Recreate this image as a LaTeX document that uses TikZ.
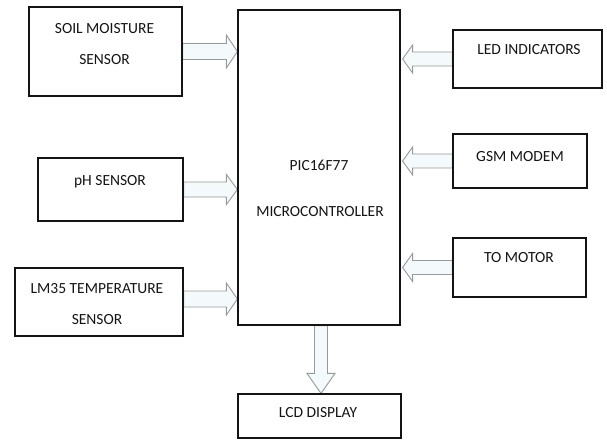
\documentclass[tikz,border=0pt]{standalone}
\usepackage{fontspec}
\setmainfont{Carlito}
\usetikzlibrary{calc,backgrounds}
\definecolor{arrowfill}{RGB}{244,249,251}
\definecolor{ink}{RGB}{20,20,20}
\tikzset{
  blockbox/.style={draw=ink, line width=1.2pt, rectangle, inner sep=0pt},
  lbl/.style={text=ink, font=\fontsize{15.5}{31}\selectfont, align=center, inner sep=0pt},
  arrowstyle/.style={draw=gray!80, fill=arrowfill, line width=0.9pt, line join=miter}
}
\newcommand\blockarrow[5]{%
  \coordinate (ba-h) at ($(#2)!#5!(#1)$);
  \filldraw[arrowstyle] ($(#1)!#3!90:(#2)$) -- ($(ba-h)!#3!-90:(#1)$) -- ($(ba-h)!#4!-90:(#1)$) -- (#2) -- ($(ba-h)!#4!90:(#1)$) -- ($(ba-h)!#3!90:(#1)$) -- ($(#1)!#3!-90:(#2)$) -- cycle;}
\begin{document}
\begin{tikzpicture}[x=1pt,y=-1pt]
\useasboundingbox (0,0) rectangle (607,440);
% boxes
\node[blockbox, minimum width=162pt, minimum height=315pt] (micro) at (319,167.5) {};
\node[blockbox, minimum width=153pt, minimum height=89pt] (soil) at (105.5,51.5) {};
\node[blockbox, minimum width=145pt, minimum height=63pt] (ph) at (110.5,189.5) {};
\node[blockbox, minimum width=168pt, minimum height=68pt] (lm) at (99,302) {};
\node[blockbox, minimum width=149pt, minimum height=58pt] (led) at (527.5,59) {};
\node[blockbox, minimum width=134pt, minimum height=54pt] (gsm) at (520,161) {};
\node[blockbox, minimum width=133pt, minimum height=59pt] (motor) at (519.5,267.5) {};
\node[blockbox, minimum width=163pt, minimum height=44pt] (lcd) at (319.5,416) {};
% texts
\node[lbl] (microtxt1) at (319,165) {PIC16F77};
\node[lbl] (microtxt2) at (320,212) {MICROCONTROLLER};
\node[lbl] (soiltxt) at (104.5,44.5) {SOIL MOISTURE\\SENSOR};
\node[lbl] (phtxt) at (110,182) {pH SENSOR};
\node[lbl] (lmtxt) at (97,304.5) {LM35 TEMPERATURE\\SENSOR};
\node[lbl] (ledtxt) at (529,50) {LED INDICATORS};
\node[lbl] (gsmtxt) at (520,157) {GSM MODEM};
\node[lbl] (motortxt) at (519,258) {TO MOTOR};
\node[lbl] (lcdtxt) at (318,413) {LCD DISPLAY};
% arrow tips
\coordinate (soil-tip) at (micro.west |- soil.east);
\coordinate (ph-tip) at (micro.west |- ph.east);
\coordinate (lm-start) at ([yshift=3pt]lm.east);
\coordinate (lm-tip) at (micro.west |- lm-start);
\coordinate (led-tip) at ([xshift=2pt]micro.east |- led.west);
\coordinate (gsm-tip) at ([xshift=2pt]micro.east |- gsm.west);
\coordinate (motor-tip) at ([xshift=2pt]micro.east |- motor.west);
\coordinate (lcd-start) at ([xshift=2pt]micro.south);
\coordinate (lcd-tip) at (lcd-start |- lcd.north);
\begin{scope}[on background layer]
\blockarrow{soil.east}{soil-tip}{8pt}{16.5pt}{11pt}
\blockarrow{ph.east}{ph-tip}{7.5pt}{15pt}{11pt}
\blockarrow{lm-start}{lm-tip}{8pt}{16pt}{11pt}
\blockarrow{led.west}{led-tip}{7pt}{14pt}{10pt}
\blockarrow{gsm.west}{gsm-tip}{7pt}{14pt}{10pt}
\blockarrow{motor.west}{motor-tip}{7pt}{14pt}{10pt}
\blockarrow{lcd-start}{lcd-tip}{6.5pt}{14pt}{20pt}
\end{scope}
\end{tikzpicture}
\end{document}
